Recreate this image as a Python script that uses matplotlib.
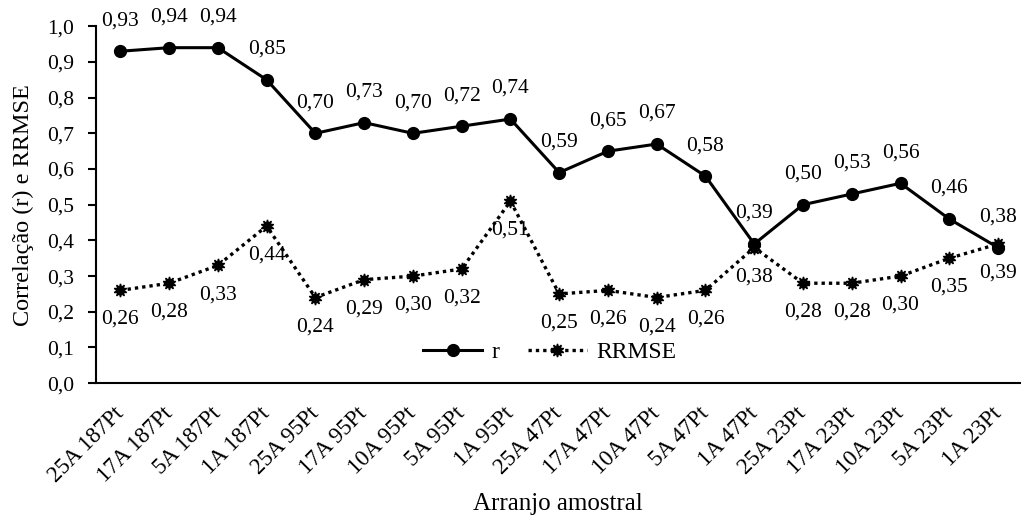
import matplotlib.pyplot as plt
import numpy as np

plt.rcParams["font.family"] = ["Liberation Serif", "DejaVu Serif"]

categories = ["25A 187Pt", "17A 187Pt", "5A 187Pt", "1A 187Pt",
              "25A 95Pt", "17A 95Pt", "10A 95Pt", "5A 95Pt", "1A 95Pt",
              "25A 47Pt", "17A 47Pt", "10A 47Pt", "5A 47Pt", "1A 47Pt",
              "25A 23Pt", "17A 23Pt", "10A 23Pt", "5A 23Pt", "1A 23Pt"]
r_values = [0.93, 0.94, 0.94, 0.85, 0.70, 0.73, 0.70, 0.72, 0.74,
            0.59, 0.65, 0.67, 0.58, 0.39, 0.50, 0.53, 0.56, 0.46, 0.38]
rrmse_values = [0.26, 0.28, 0.33, 0.44, 0.24, 0.29, 0.30, 0.32, 0.51,
                0.25, 0.26, 0.24, 0.26, 0.38, 0.28, 0.28, 0.30, 0.35, 0.39]
yticks = np.arange(0, 1.01, 0.1)


def fmt(v):
    return ("%.2f" % v).replace(".", ",")


fig = plt.figure(figsize=(10.21, 5.15), dpi=100)
ax = fig.add_axes([0.094, 0.256, 0.905, 0.693])

x = np.arange(len(categories))
ax.plot(x, r_values, color="black", lw=2.2, marker="o", markersize=8.5, label="r")
ax.plot(x, rrmse_values, color="black", lw=2.4, linestyle=(0, (1, 1.2)),
        marker=(10, 1, 0), markersize=9.5, label="RRMSE")

# data labels: r above, RRMSE below
for xi, v in zip(x, r_values):
    ax.annotate(fmt(v), (xi, v), xytext=(0, 22), textcoords="offset points",
                ha="center", va="center", fontsize=15.5, annotation_clip=False)
for xi, v in zip(x, rrmse_values):
    ax.annotate(fmt(v), (xi, v), xytext=(0, -21), textcoords="offset points",
                ha="center", va="center", fontsize=15.5, annotation_clip=False)

ax.set_xlim(-0.5, len(categories) - 0.55)
ax.set_ylim(0, 1.0)
ax.set_yticks(yticks, labels=[("%.1f" % t).replace(".", ",") for t in yticks], fontsize=15.5)
ax.set_xticks(x)
ax.set_xticklabels(categories, rotation=45, ha="right", va="center",
                   rotation_mode="anchor", fontsize=16.5)
ax.tick_params(axis="x", length=0, pad=20)
ax.tick_params(axis="y", direction="out", length=6, width=1.5, pad=10)

for s in ["top", "right"]:
    ax.spines[s].set_visible(False)
for s in ["left", "bottom"]:
    ax.spines[s].set_linewidth(1.5)

ax.set_ylabel("Correlação (r) e RRMSE", fontsize=17.5, labelpad=9)
ax.set_xlabel("Arranjo amostral", fontsize=18, labelpad=4)

ax.legend(loc="center", bbox_to_anchor=(0.491, 0.087), ncol=2, frameon=False,
          fontsize=17, handlelength=2.5, columnspacing=1.2, handletextpad=0.4)

plt.savefig("out.png", dpi=100)
